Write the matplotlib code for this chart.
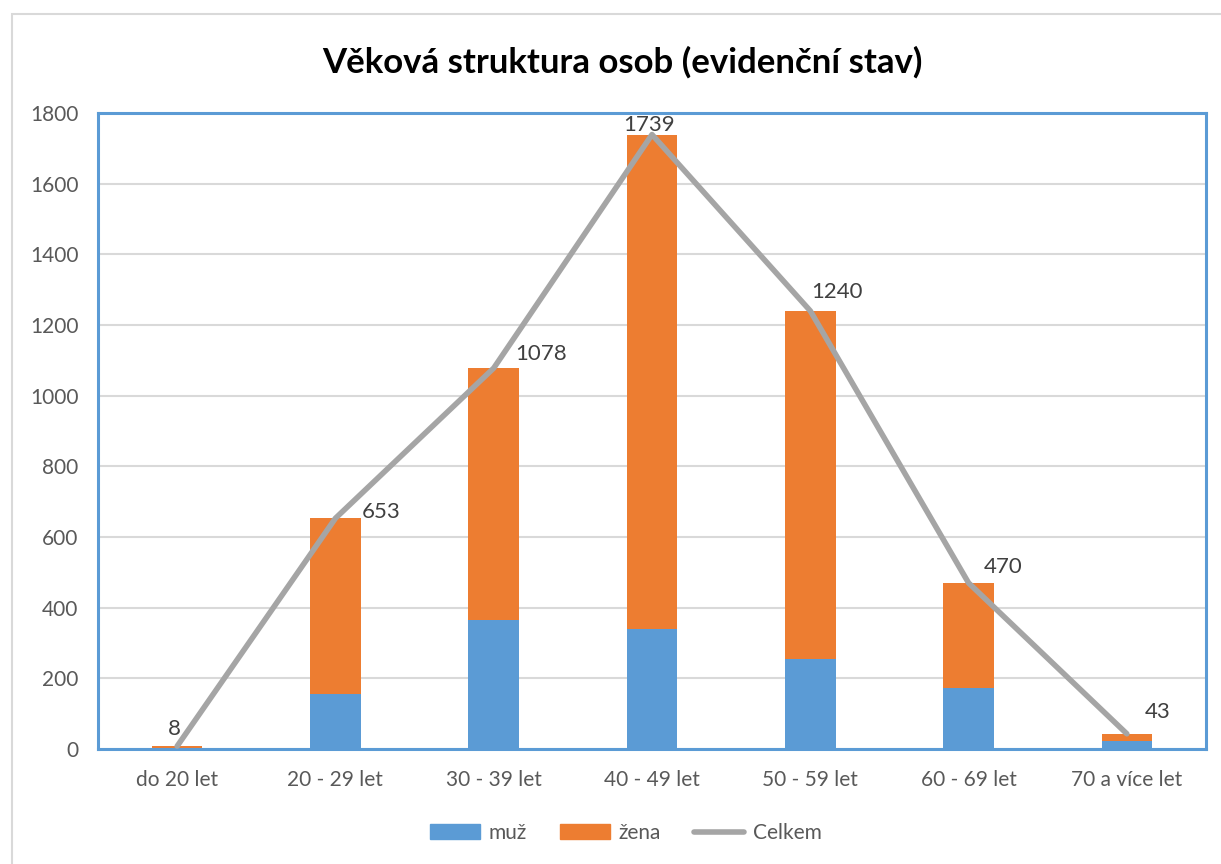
import matplotlib
matplotlib.use("Agg")
import matplotlib.pyplot as plt
from matplotlib.patches import Rectangle
from matplotlib.lines import Line2D
import numpy as np

categories = ["do 20 let", "20 - 29 let", "30 - 39 let", "40 - 49 let", "50 - 59 let", "60 - 69 let", "70 a více let"]
muz = [0, 157, 364, 339, 255, 172, 22]
celkem = [8, 653, 1078, 1739, 1240, 470, 43]
zena = [c - m for c, m in zip(celkem, muz)]
label_offsets = [(-1.8, 12.4), (33, 4.7), (34, 10.4), (-2, 7.2), (19.4, 13.9), (25, 11.6), (22, 15.7)]

BLUE = "#5B9BD5"
ORANGE = "#ED7D31"
GREY = "#A5A5A5"
TXT = "#595959"

plt.rcParams['font.family'] = ['Lato', 'DejaVu Sans']
fig = plt.figure(figsize=(12.21, 8.64), dpi=100)
fig.patches.append(Rectangle((12/1221, -0.1), 1.2, (864-14)/864 + 0.1, transform=fig.transFigure,
                             fill=False, edgecolor="#D9D9D9", linewidth=1.5))
ax = fig.add_axes([98/1221, 1-749/864, (1206-98)/1221, (749-113)/864])
x = np.arange(len(categories))
w = 0.32
ax.bar(x, muz, w, color=BLUE, zorder=2, label="muž")
ax.bar(x, zena, w, bottom=muz, color=ORANGE, zorder=2, label="žena")
ax.plot(x, celkem, color=GREY, lw=4, zorder=3, label="Celkem", solid_capstyle="round")
for xi, v, off in zip(x, celkem, label_offsets):
    ax.annotate(str(v), (xi, v), xytext=off, textcoords="offset points", ha="center", va="center",
                fontsize=16, color="#404040", zorder=4)
ax.set_xlim(-0.5, len(categories) - 0.5)
ax.set_ylim(0, 1800)
ax.set_yticks(range(0, 1801, 200))
ax.set_xticks(x)
ax.set_xticklabels(categories)
ax.tick_params(axis="both", length=0, labelsize=15, labelcolor=TXT)
ax.tick_params(axis="x", pad=15)
ax.tick_params(axis="y", pad=14)
ax.grid(axis="y", color="#D9D9D9", lw=1.5, zorder=0)
ax.set_axisbelow(True)
for s in ax.spines.values():
    s.set_color(BLUE)
    s.set_linewidth(2.2)
fig.text(0.510, 1-62/864, "Věková struktura osob (evidenční stav)", ha="center", va="center",
         fontsize=25, fontweight="bold", color="black")
handles = [Rectangle((0, 0), 1, 1, color=BLUE), Rectangle((0, 0), 1, 1, color=ORANGE),
           Line2D([0], [0], color=GREY, lw=4, solid_capstyle="round")]
fig.legend(handles, ["muž", "žena", "Celkem"], loc="center", bbox_to_anchor=(626/1221, 1-833/864),
           ncol=3, frameon=False, fontsize=15, labelcolor=TXT, handlelength=2.4, handleheight=0.7,
           columnspacing=1.6, handletextpad=0.4)
fig.savefig("out.png", dpi=100)
